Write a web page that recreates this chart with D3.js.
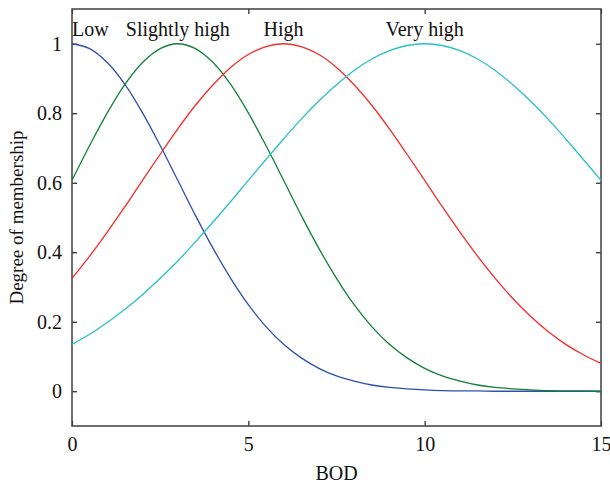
<!DOCTYPE html>
<html>
<head>
<meta charset="utf-8">
<script src="https://cdn.jsdelivr.net/npm/d3@7"></script>
<style>
  body { margin: 0; background: #fff; }
  text { font-family: "Liberation Serif", "DejaVu Serif", serif; fill: #111; }
</style>
</head>
<body>
<div id="chart"></div>
<script>
// BOD sample points (every 0.5 unit)
const bod = d3.range(0, 15.01, 0.5);
const low = [1, 0.986, 0.946, 0.883, 0.801, 0.707, 0.607, 0.506, 0.411, 0.325, 0.249, 0.186, 0.135, 0.096, 0.066, 0.044, 0.029, 0.018, 0.011, 0.007, 0.004, 0.002, 0.001, 0.001, 0, 0, 0, 0, 0, 0, 0];
const slightlyHigh = [0.607, 0.707, 0.801, 0.883, 0.946, 0.986, 1, 0.986, 0.946, 0.883, 0.801, 0.707, 0.607, 0.506, 0.411, 0.325, 0.249, 0.186, 0.135, 0.096, 0.066, 0.044, 0.029, 0.018, 0.011, 0.007, 0.004, 0.002, 0.001, 0.001, 0];
const high = [0.325, 0.389, 0.458, 0.531, 0.607, 0.682, 0.755, 0.823, 0.882, 0.932, 0.969, 0.992, 1, 0.992, 0.969, 0.932, 0.882, 0.823, 0.755, 0.682, 0.607, 0.531, 0.458, 0.389, 0.325, 0.267, 0.216, 0.172, 0.135, 0.105, 0.080];
const veryHigh = [0.135, 0.164, 0.198, 0.236, 0.278, 0.325, 0.375, 0.430, 0.487, 0.546, 0.607, 0.667, 0.726, 0.783, 0.835, 0.882, 0.923, 0.956, 0.980, 0.995, 1, 0.995, 0.980, 0.956, 0.923, 0.882, 0.835, 0.783, 0.726, 0.667, 0.607];

const seriesNames = ["Low", "Slightly high", "High", "Very high"];
const seriesLabelX = [0.52, 3, 6, 10];
const xTicks = [0, 5, 10, 15];
const yTicks = [0, 0.2, 0.4, 0.6, 0.8, 1];

const series = [low, slightlyHigh, high, veryHigh];
const colors = ["#2d4fae", "#128038", "#f52a2a", "#26c2c2"];

const margin = { top: 9, right: 9, bottom: 65, left: 72 };
const width = 610 - margin.left - margin.right;
const height = 491 - margin.top - margin.bottom;

const svg = d3.select("#chart").append("svg")
    .attr("width", 610)
    .attr("height", 491)
    .append("g")
    .attr("transform", "translate(" + margin.left + "," + margin.top + ")");

const x = d3.scaleLinear().domain([0, 15]).range([0, width]);
const y = d3.scaleLinear().domain([-0.1, 1.1]).range([height, 0]);

// axes with inward ticks
const xAxis = d3.axisBottom(x).tickValues(xTicks).tickSize(-5).tickPadding(11).tickFormat(d3.format("d"));
const yAxis = d3.axisLeft(y).tickValues(yTicks).tickSize(-5).tickPadding(10).tickFormat(d => d === 0 || d === 1 ? d : d3.format(".1f")(d));

svg.append("g")
    .attr("class", "x axis")
    .attr("transform", "translate(0," + height + ")")
    .call(xAxis);

svg.append("g")
    .attr("class", "y axis")
    .call(yAxis);

// mirror ticks on top and right
svg.append("g").attr("class", "mirror")
    .call(d3.axisTop(x).tickValues(xTicks).tickSize(-5).tickFormat(""));
svg.append("g").attr("class", "mirror")
    .attr("transform", "translate(" + width + ",0)")
    .call(d3.axisRight(y).tickValues(yTicks).tickSize(-5).tickFormat(""));

svg.selectAll(".domain").remove();
svg.selectAll(".tick line").attr("stroke", "#222").attr("stroke-width", 1.2);
svg.selectAll(".axis .tick text").style("font-size", "20px").attr("fill", "#111");

svg.append("rect")
    .attr("width", width)
    .attr("height", height)
    .attr("fill", "none")
    .attr("stroke", "#4a4a4a")
    .attr("stroke-width", 1.6);

const line = d3.line()
    .x((d, i) => x(bod[i]))
    .y(d => y(d))
    .curve(d3.curveCatmullRom);

svg.selectAll(".curve")
    .data(series)
    .enter().append("path")
    .attr("class", "curve")
    .attr("d", line)
    .attr("fill", "none")
    .attr("stroke", (d, i) => colors[i])
    .attr("stroke-width", 1.3);

svg.selectAll(".series-label")
    .data(seriesNames)
    .enter().append("text")
    .attr("class", "series-label")
    .attr("x", (d, i) => x(seriesLabelX[i]))
    .attr("y", 27)
    .attr("text-anchor", "middle")
    .style("font-size", "20px")
    .text(d => d);

svg.append("text")
    .attr("x", width / 2)
    .attr("y", height + 54)
    .attr("text-anchor", "middle")
    .style("font-size", "20px")
    .text("BOD");

svg.append("text")
    .attr("transform", "translate(-49," + (height / 2) + ") rotate(-90)")
    .attr("text-anchor", "middle")
    .style("font-size", "19px")
    .text("Degree of membership");
</script>
</body>
</html>
